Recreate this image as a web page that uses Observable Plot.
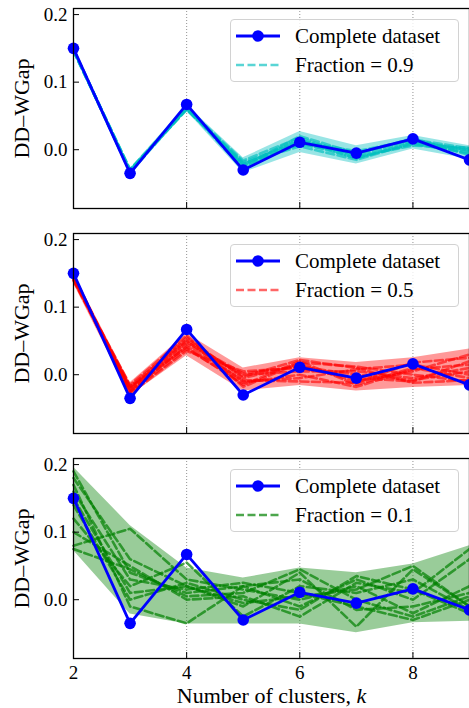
<!DOCTYPE html>
<html><head><meta charset="utf-8">
<script src="https://cdn.jsdelivr.net/npm/d3@7"></script>
<script src="https://cdn.jsdelivr.net/npm/@observablehq/plot@0.6"></script>
</head>
<body style="margin:0;background:#fff;font-family:'Liberation Serif',serif">
<div id="wrap" style="width:469px;position:relative;overflow:hidden;"></div>
<script>
const FONT = "'Liberation Serif', serif";
const ks = [2, 3, 4, 5, 6, 7, 8, 9];
const xTicks = [2, 4, 6, 8];
const gridX = [4, 6, 8];
const yTicks = [0, 0.1, 0.2];
const complete = [0.150, -0.035, 0.067, -0.030, 0.011, -0.005, 0.016, -0.015];

const runs09 = [
  [0.148, -0.032, 0.062, -0.022, 0.015, -0.008, 0.012, 0.000],
  [0.147, -0.030, 0.060, -0.018, 0.010, -0.012, 0.008, -0.004],
  [0.149, -0.033, 0.063, -0.025, 0.020, -0.005, 0.015, 0.002],
  [0.146, -0.031, 0.059, -0.020, 0.005, -0.015, 0.010, -0.006],
  [0.148, -0.034, 0.061, -0.028, 0.012, -0.002, 0.014, -0.002],
  [0.147, -0.029, 0.062, -0.016, 0.018, -0.010, 0.006, 0.003],
  [0.149, -0.032, 0.064, -0.024, 0.008, -0.006, 0.017, -0.008],
  [0.146, -0.030, 0.060, -0.021, 0.014, -0.013, 0.011, -0.001]
];
const band09Lo = [0.143, -0.036, 0.057, -0.034, -0.004, -0.021, 0.001, -0.014];
const band09Hi = [0.152, -0.028, 0.066, -0.012, 0.027, 0.006, 0.021, 0.006];

const runs05 = [
  [0.145, -0.020, 0.055, -0.005, 0.015, -0.010, 0.005, 0.030],
  [0.142, -0.025, 0.045, 0.000, 0.005, 0.005, -0.005, 0.010],
  [0.140, -0.018, 0.040, -0.015, 0.020, -0.015, 0.010, -0.005],
  [0.146, -0.022, 0.050, -0.010, -0.005, 0.008, 0.015, 0.000],
  [0.143, -0.028, 0.035, 0.005, 0.010, -0.005, -0.010, 0.020],
  [0.141, -0.015, 0.058, -0.018, 0.018, 0.012, 0.000, -0.010],
  [0.144, -0.024, 0.042, -0.008, -0.010, -0.012, 0.018, 0.025],
  [0.139, -0.020, 0.048, 0.002, 0.012, 0.000, -0.008, 0.005],
  [0.147, -0.026, 0.038, -0.012, 0.000, -0.018, 0.008, 0.015],
  [0.142, -0.017, 0.052, -0.003, 0.022, 0.010, -0.012, -0.008]
];
const band05Lo = [0.135, -0.031, 0.028, -0.024, -0.016, -0.024, -0.019, -0.016];
const band05Hi = [0.150, -0.012, 0.061, 0.010, 0.025, 0.018, 0.025, 0.038];

const runs01 = [
  [0.190, 0.040, 0.010, 0.020, -0.010, 0.030, 0.000, 0.060],
  [0.180, 0.060, 0.020, -0.010, 0.040, -0.040, 0.045, -0.010],
  [0.080, 0.105, 0.030, 0.015, 0.000, 0.020, -0.020, 0.020],
  [0.120, 0.020, 0.055, -0.025, 0.020, 0.010, 0.030, -0.015],
  [0.170, -0.010, -0.035, 0.020, 0.030, -0.015, -0.010, 0.010],
  [0.100, 0.050, 0.000, 0.005, -0.025, 0.025, 0.010, 0.075],
  [0.160, 0.030, 0.015, 0.025, 0.010, -0.010, -0.030, 0.000],
  [0.140, 0.000, 0.025, 0.000, -0.015, 0.035, 0.015, -0.020],
  [0.075, 0.045, 0.005, 0.010, 0.045, 0.000, -0.025, 0.005],
  [0.150, 0.010, 0.020, -0.005, 0.005, 0.015, 0.050, -0.010]
];
const band01Lo = [0.073, -0.021, -0.036, -0.036, -0.036, -0.049, -0.034, -0.032];
const band01Hi = [0.196, 0.110, 0.047, 0.032, 0.047, 0.040, 0.053, 0.080];

const labels = ["Complete dataset", "Fraction = 0.9", "Fraction = 0.5", "Fraction = 0.1"];
const BLUE = "#0000ff";

const panels = [
  {runs: runs09, lo: band09Lo, hi: band09Hi, color: "#00bfbf", opacity: 0.65, label: labels[1]},
  {runs: runs05, lo: band05Lo, hi: band05Hi, color: "#ff0000", opacity: 0.6, label: labels[2]},
  {runs: runs01, lo: band01Lo, hi: band01Hi, color: "#008000", opacity: 0.7, label: labels[3], last: true}
];

function render() {
  const root = document.getElementById("wrap");
  root.innerHTML = "";
  panels.forEach(p => {
    const H = p.last ? 258 : 225;
    const mb = p.last ? 50 : 17;
    const bandData = ks.map((k, i) => ({k, lo: p.lo[i], hi: p.hi[i]}));
    const runData = p.runs.flatMap((r, j) => r.map((v, i) => ({k: ks[i], v, run: j})));
    const compData = ks.map((k, i) => ({k, v: complete[i]}));
    const marks = [
      Plot.ruleX(gridX, {stroke: "#777", strokeWidth: 0.8, strokeDasharray: "1,2"}),
      Plot.areaY(bandData, {x: "k", y1: "lo", y2: "hi", fill: p.color, fillOpacity: 0.4}),
      Plot.line(runData, {x: "k", y: "v", z: "run", stroke: p.color, strokeWidth: 2.6, strokeOpacity: p.opacity, strokeDasharray: "8,3.5"}),
      Plot.line(compData, {x: "k", y: "v", stroke: BLUE, strokeWidth: 2.8}),
      Plot.dot(compData, {x: "k", y: "v", fill: BLUE, r: 5.8}),
      Plot.frame({stroke: "black", strokeWidth: 1.3}),
      Plot.tickY(yTicks, {y: d => d, stroke: "black", strokeWidth: 1, insetRight: 396 - 6}),
      Plot.tickX(xTicks, {x: d => d, stroke: "black", strokeWidth: 1, insetTop: 200 - 6}),
      Plot.axisY(yTicks, {tickSize: 0, tickPadding: 6, tickFormat: d3.format(".1f"), fontSize: 19, label: null}),
      Plot.text(["DD–WGap"], {frameAnchor: "left", rotate: -90, dx: -52, fontSize: 22, textAnchor: "middle", lineAnchor: "middle"})
    ];
    if (p.last) {
      marks.push(Plot.axisX(xTicks, {tickSize: 0, tickPadding: 7, fontSize: 19, label: null}));
      marks.push(Plot.text(["Number of clusters, k"], {frameAnchor: "bottom", dy: 44, fontSize: 22, textAnchor: "middle", lineAnchor: "bottom"}));
    }
    const plot = Plot.plot({
      width: 469, height: H,
      marginLeft: 73, marginRight: 0, marginTop: 8, marginBottom: mb,
      x: {domain: [2, 9], axis: p.last ? undefined : null},
      y: {domain: [-0.087, 0.209]},
      style: {fontFamily: FONT, fontSize: "19px", color: "black", background: "white", display: "block"},
      marks
    });
    d3.select(plot).selectAll("text").each(function() {
      if (this.textContent === "Number of clusters, k") {
        const t = d3.select(this);
        t.text(null);
        t.append("tspan").text("Number of clusters, ");
        t.append("tspan").attr("font-style", "italic").text("k");
      }
    });
    const div = document.createElement("div");
    div.style.position = "relative";
    div.appendChild(plot);
    const leg = document.createElement("div");
    leg.style.cssText = "position:absolute;left:230px;top:19px;width:227px;height:61px;border:1px solid #d2d2d2;border-radius:4px;background:rgba(255,255,255,0.8);";
    const rows = [
      {top: 4, sym: `<line x1="0" y1="12" x2="44" y2="12" stroke="${BLUE}" stroke-width="2.8"/><circle cx="22" cy="12" r="5.8" fill="${BLUE}"/>`, text: labels[0]},
      {top: 33, sym: `<line x1="0" y1="12" x2="44" y2="12" stroke="${p.color}" stroke-opacity="${p.opacity}" stroke-width="2.6" stroke-dasharray="8,3.5"/>`, text: p.label}
    ];
    rows.forEach(r => {
      const row = document.createElement("div");
      row.style.cssText = `position:absolute;left:0;top:${r.top}px;height:24px;width:227px;`;
      row.innerHTML = `<svg width="46" height="24" style="position:absolute;left:5px;top:0">${r.sym}</svg>`;
      const s = document.createElement("div");
      s.style.cssText = `position:absolute;left:64px;top:0;line-height:24px;font-size:21px;white-space:nowrap;font-family:${FONT};`;
      s.textContent = r.text;
      row.appendChild(s);
      leg.appendChild(row);
    });
    div.appendChild(leg);
    root.appendChild(div);
  });
}

render();
if (document.fonts && document.fonts.load) {
  document.fonts.load("19px 'Liberation Serif'").then(render).catch(() => {});
}
</script></body></html>
